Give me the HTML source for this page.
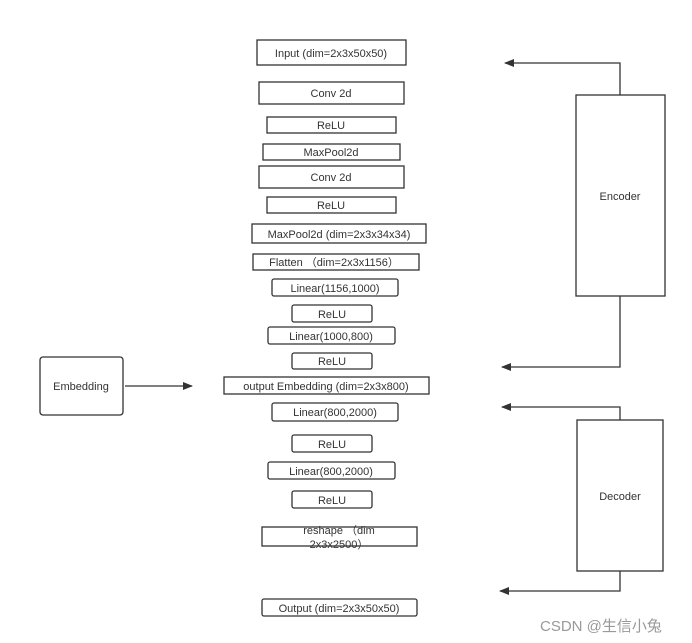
<!DOCTYPE html>
<html><head><meta charset="utf-8"><style>
html,body{margin:0;padding:0;background:#fff;}
svg{display:block;}
text{font-family:"Liberation Sans","Noto Sans CJK SC",sans-serif;fill:#333;font-size:11px;}
</style></head><body>
<svg width="692" height="643" viewBox="0 0 692 643" xmlns="http://www.w3.org/2000/svg">
<defs><marker id="a" markerWidth="10" markerHeight="8" refX="9" refY="4" orient="auto" markerUnits="userSpaceOnUse"><path d="M0,0 L10,4 L0,8 z" fill="#333"/></marker></defs>
<g fill="none" stroke="#333" stroke-width="1.3">
<rect x="257" y="40" width="149" height="25"/>
<rect x="259" y="82" width="145" height="22"/>
<rect x="267" y="117" width="129" height="16"/>
<rect x="263" y="144" width="137" height="16"/>
<rect x="259" y="166" width="145" height="22"/>
<rect x="267" y="197" width="129" height="16"/>
<rect x="252" y="224" width="174" height="19"/>
<rect x="253" y="254" width="166" height="16"/>
<rect x="272" y="279" width="126" height="17" rx="2"/>
<rect x="292" y="305" width="80" height="17" rx="2"/>
<rect x="268" y="327" width="127" height="17" rx="2"/>
<rect x="292" y="353" width="80" height="16" rx="2"/>
<rect x="224" y="377" width="205" height="17"/>
<rect x="272" y="403" width="126" height="18" rx="2"/>
<rect x="292" y="435" width="80" height="17" rx="2"/>
<rect x="268" y="462" width="127" height="17" rx="2"/>
<rect x="292" y="491" width="80" height="17" rx="2"/>
<rect x="262" y="527" width="155" height="19"/>
<rect x="262" y="599" width="155" height="17" rx="2"/>
<rect x="40" y="357" width="83" height="58" rx="3"/>
<rect x="576" y="95" width="89" height="201"/>
<rect x="577" y="420" width="86" height="151"/>
<line x1="125" y1="386" x2="192" y2="386" marker-end="url(#a)"/>
<polyline points="620,95 620,63 505,63" marker-end="url(#a)"/>
<polyline points="620,296 620,367 502,367" marker-end="url(#a)"/>
<polyline points="620,420 620,407 502,407" marker-end="url(#a)"/>
<polyline points="620,571 620,591 500,591" marker-end="url(#a)"/>
</g>
<g text-anchor="middle">
<text x="331" y="57">Input (dim=2x3x50x50)</text>
<text x="331" y="97">Conv 2d</text>
<text x="331" y="129">ReLU</text>
<text x="331" y="156">MaxPool2d</text>
<text x="331" y="181">Conv 2d</text>
<text x="331" y="209">ReLU</text>
<text x="339" y="238">MaxPool2d (dim=2x3x34x34)</text>
<text x="334" y="266">Flatten （dim=2x3x1156）</text>
<text x="335" y="292">Linear(1156,1000)</text>
<text x="332" y="318">ReLU</text>
<text x="331" y="340">Linear(1000,800)</text>
<text x="332" y="365">ReLU</text>
<text x="326" y="390">output Embedding (dim=2x3x800)</text>
<text x="335" y="416">Linear(800,2000)</text>
<text x="332" y="448">ReLU</text>
<text x="331" y="475">Linear(800,2000)</text>
<text x="332" y="504">ReLU</text>
<text x="339" y="534">reshape （dim</text>
<text x="339" y="548">2x3x2500）</text>
<text x="339" y="612">Output (dim=2x3x50x50)</text>
<text x="81" y="390">Embedding</text>
<text x="620" y="200">Encoder</text>
<text x="620" y="500">Decoder</text>
</g>
<text x="540" y="631" style="font-size:15px;fill:#999">CSDN @生信小兔</text>
</svg>
</body></html>
